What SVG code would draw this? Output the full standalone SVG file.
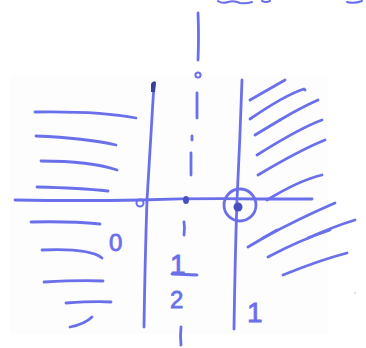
<svg xmlns="http://www.w3.org/2000/svg" width="366" height="348" viewBox="0 0 366 348">
<style>
.s{fill:none;stroke:#6a6fea;stroke-width:2.8;stroke-linecap:round;stroke-linejoin:round}
.t{fill:none;stroke:#6a6fea;stroke-width:2;stroke-linecap:round}
.lb{font-family:"Liberation Sans",Arial,sans-serif;fill:#6a6fea;stroke:#6a6fea;stroke-width:0.8}
</style>
<rect width="366" height="348" fill="#ffffff"/>
<rect x="10" y="76" width="318" height="258" fill="#fdfdfe"/>
<!-- top cut-off scribbles -->
<path class="t" d="M218 1 Q222 4 228 2 Q234 0 240 3 Q246 4 252 2 M262 1 Q266 3 270 1"/>
<path class="t" d="M347 2 Q354 4 362 1"/>
<!-- verticals -->
<path class="s" d="M154 84 Q150 150 147 200 Q145 260 144 327"/>
<path d="M151 84 Q153 80 156 82 L155 92 L151 92 Z" fill="#3c3f9c"/>
<path class="s" d="M242 80 Q240 140 237 200 Q235 260 234 329"/>
<!-- horizontal axis -->
<path class="s" d="M15 200 Q80 201 140 200 Q200 198 260 199 Q290 199 312 199"/>
<!-- dash-dot centre line -->
<path class="s" d="M198 13 Q199 35 198 60"/>
<circle cx="198" cy="75" r="2.6" class="t"/>
<path class="s" d="M197 93 L197 118"/>
<path class="s" d="M192 136 L192 140"/>
<path class="s" d="M191 153 L191 175"/>
<path class="s" d="M184 222 Q185 228 184 235"/>
<path class="s" d="M181 327 Q180 336 181 345"/>
<!-- points -->
<circle cx="140" cy="203" r="3.5" class="t"/>
<ellipse cx="186" cy="200" rx="3" ry="4" fill="#4a4fc0"/>
<circle cx="240" cy="205" r="16" class="s"/>
<circle cx="238" cy="207" r="4.5" fill="#4a4fc0"/>
<!-- left hatching -->
<g class="s">
<path d="M35 112 Q100 111 136 118"/>
<path d="M36 136 Q85 138 116 145"/>
<path d="M41 161 Q90 161 117 170"/>
<path d="M37 187 Q80 188 108 191"/>
<path d="M31 222 Q70 221 100 224"/>
<path d="M42 250 Q90 248 102 258"/>
<path d="M44 282 Q80 280 103 281"/>
<path d="M66 303 Q95 301 111 302"/>
<path d="M70 327 Q85 324 92 317"/>
</g>
<!-- right hatching -->
<g class="s">
<path d="M250 100 L285 80"/>
<path d="M250 119 Q285 95 304 89 L305 90"/>
<path d="M280 120 Q300 108 318 100"/>
<path d="M255 135 L280 120"/>
<path d="M257 155 Q300 128 322 120"/>
<path d="M258 175 Q300 150 325 140"/>
<path d="M267 200 Q300 180 322 175"/>
<path d="M263 238 Q300 218 335 203"/>
<path d="M308 238 Q335 226 355 220"/>
<path d="M248 247 L277 230"/>
<path d="M268 257 Q300 240 330 230"/>
<path d="M283 275 Q320 260 347 253"/>
</g>
<circle cx="355" cy="293" r="0.8" fill="#bbbbbb"/>
<!-- labels -->
<text class="lb" x="109" y="251" font-size="24">0</text>
<text class="lb" x="170" y="274" font-size="28">1</text>
<path class="s" d="M172 274 L197 275"/>
<text class="lb" x="170" y="308" font-size="24">2</text>
<text class="lb" x="247" y="322" font-size="28">1</text>
</svg>
